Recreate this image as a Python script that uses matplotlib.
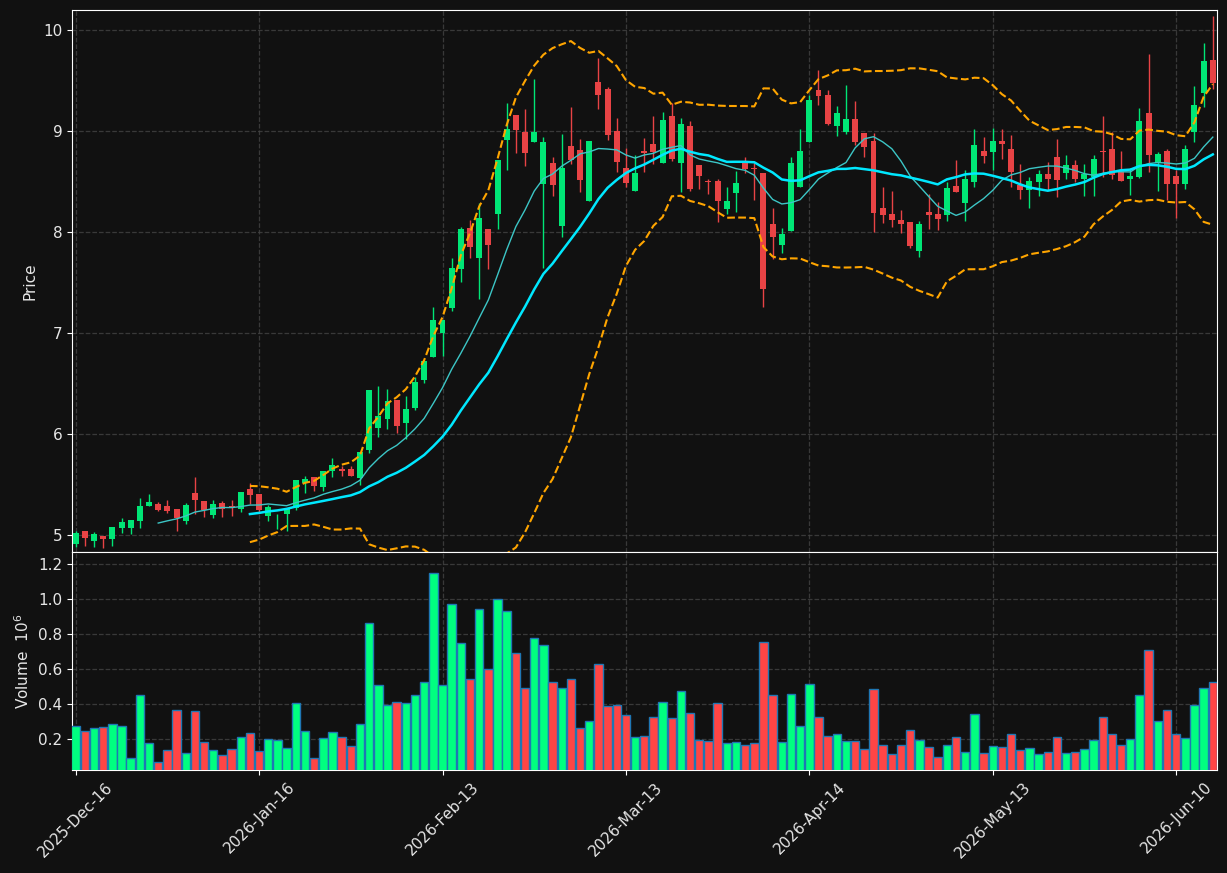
import numpy as np
import pandas as pd
import matplotlib
matplotlib.use("Agg")
import matplotlib.pyplot as plt

# OHLC (one bar per trading day)
opens = [4.914, 5.040, 4.941, 4.990, 4.960, 5.069, 5.069, 5.139, 5.287, 5.307,
         5.287, 5.257, 5.139, 5.416, 5.337, 5.198, 5.317, 5.287, 5.257, 5.456,
         5.410, 5.191, 5.205, 5.208, 5.271, 5.512, 5.574, 5.479, 5.637, 5.650,
         5.653, 5.568, 5.842, 6.063, 6.149, 6.337, 6.109, 6.257, 6.535, 6.766,
         7.003, 7.251, 7.637, 8.036, 7.746, 8.026, 8.182, 8.911, 9.155, 8.993,
         8.894, 8.479, 8.680, 8.056, 8.851, 8.812, 8.310, 9.488, 9.416, 9.000,
         8.634, 8.409, 8.802, 8.871, 8.680, 9.149, 8.686, 9.050, 8.660, 8.505,
         8.505, 8.231, 8.389, 8.683, 8.630, 8.581, 8.079, 7.875, 8.013, 8.442,
         8.894, 9.406, 9.356, 9.053, 8.993, 9.119, 8.980, 8.901, 8.238, 8.178,
         8.119, 8.099, 7.815, 8.198, 8.178, 8.172, 8.455, 8.290, 8.498, 8.802,
         8.795, 8.901, 8.822, 8.469, 8.416, 8.495, 8.574, 8.743, 8.587, 8.663,
         8.525, 8.548, 8.799, 8.822, 8.597, 8.525, 8.548, 9.178, 8.686, 8.802,
         8.554, 8.479, 8.993, 9.380, 9.703]
highs = [5.043, 5.040, 5.033, 4.990, 5.079, 5.165, 5.149, 5.366, 5.403, 5.327,
         5.343, 5.257, 5.317, 5.574, 5.337, 5.347, 5.337, 5.347, 5.426, 5.515,
         5.410, 5.297, 5.208, 5.264, 5.545, 5.584, 5.574, 5.634, 5.759, 5.683,
         5.683, 5.818, 6.436, 6.475, 6.442, 6.337, 6.380, 6.568, 6.723, 7.257,
         7.129, 7.743, 8.053, 8.116, 8.290, 8.026, 8.713, 9.277, 9.155, 9.221,
         9.518, 8.944, 8.743, 8.967, 9.234, 8.917, 8.901, 9.719, 9.439, 9.125,
         8.832, 8.762, 8.927, 9.149, 9.188, 9.281, 9.125, 9.099, 8.660, 8.525,
         8.525, 8.449, 8.601, 8.746, 8.680, 8.581, 8.234, 8.036, 8.746, 9.017,
         9.356, 9.601, 9.406, 9.251, 9.455, 9.294, 8.980, 8.977, 8.446, 8.406,
         8.215, 8.099, 8.106, 8.376, 8.294, 8.498, 8.713, 8.614, 9.017, 8.937,
         9.026, 9.017, 8.957, 8.670, 8.548, 8.611, 8.696, 8.917, 8.759, 8.713,
         8.673, 8.759, 9.149, 8.990, 8.799, 8.630, 9.224, 9.759, 8.789, 8.819,
         8.614, 8.858, 9.442, 9.868, 10.135]
lows = [4.884, 4.894, 4.884, 4.875, 4.894, 5.023, 5.013, 5.073, 5.287, 5.238,
        5.218, 5.043, 5.109, 5.208, 5.182, 5.172, 5.182, 5.191, 5.224, 5.307,
        5.230, 5.142, 5.059, 5.043, 5.248, 5.419, 5.439, 5.439, 5.571, 5.584,
        5.584, 5.495, 5.815, 5.974, 6.053, 6.013, 5.947, 6.238, 6.502, 6.766,
        6.776, 7.218, 7.502, 7.746, 7.337, 7.630, 8.026, 8.611, 8.779, 8.657,
        8.894, 7.640, 8.353, 7.954, 8.670, 8.399, 8.310, 9.214, 8.908, 8.597,
        8.449, 8.409, 8.597, 8.670, 8.680, 8.703, 8.399, 8.406, 8.422, 8.373,
        8.096, 8.175, 8.201, 8.581, 8.317, 7.261, 7.729, 7.795, 8.013, 8.442,
        8.894, 9.254, 9.056, 8.947, 8.970, 8.861, 8.746, 8.003, 8.092, 8.053,
        7.993, 7.838, 7.749, 8.033, 8.023, 8.112, 8.399, 8.112, 8.442, 8.680,
        8.614, 8.726, 8.442, 8.330, 8.241, 8.360, 8.416, 8.350, 8.528, 8.498,
        8.360, 8.360, 8.548, 8.528, 8.508, 8.370, 8.538, 8.597, 8.409, 8.320,
        8.142, 8.429, 8.888, 9.241, 9.413]
closes = [5.020, 4.974, 5.010, 4.964, 5.079, 5.129, 5.149, 5.287, 5.327, 5.248,
          5.238, 5.172, 5.297, 5.347, 5.248, 5.307, 5.257, 5.277, 5.426, 5.396,
          5.248, 5.274, 5.208, 5.264, 5.545, 5.554, 5.488, 5.634, 5.693, 5.634,
          5.584, 5.818, 6.436, 6.178, 6.327, 6.083, 6.248, 6.515, 6.723, 7.129,
          7.129, 7.644, 8.026, 7.855, 8.135, 7.875, 8.713, 9.023, 9.010, 8.782,
          8.990, 8.891, 8.469, 8.634, 8.713, 8.518, 8.901, 9.360, 8.960, 8.696,
          8.488, 8.584, 8.779, 8.795, 9.109, 8.723, 9.069, 8.429, 8.558, 8.498,
          8.310, 8.304, 8.485, 8.627, 8.624, 7.439, 7.954, 7.980, 8.683, 8.802,
          9.304, 9.350, 9.073, 9.178, 9.119, 8.894, 8.845, 8.191, 8.172, 8.119,
          8.082, 7.865, 8.079, 8.172, 8.132, 8.436, 8.399, 8.525, 8.861, 8.756,
          8.901, 8.875, 8.597, 8.419, 8.502, 8.574, 8.525, 8.518, 8.663, 8.525,
          8.578, 8.723, 8.792, 8.564, 8.508, 8.554, 9.099, 8.766, 8.772, 8.479,
          8.479, 8.822, 9.257, 9.693, 9.479]
# volume in millions
volumes = [0.275, 0.246, 0.263, 0.269, 0.286, 0.275, 0.091, 0.453, 0.177, 0.068,
           0.139, 0.367, 0.120, 0.361, 0.185, 0.137, 0.108, 0.144, 0.211, 0.234,
           0.131, 0.200, 0.194, 0.148, 0.407, 0.246, 0.091, 0.206, 0.240, 0.211,
           0.160, 0.286, 0.861, 0.510, 0.395, 0.413, 0.407, 0.453, 0.528, 1.148,
           0.510, 0.970, 0.746, 0.545, 0.941, 0.602, 0.999, 0.930, 0.689, 0.493,
           0.775, 0.740, 0.528, 0.493, 0.545, 0.263, 0.303, 0.631, 0.390, 0.395,
           0.338, 0.211, 0.217, 0.326, 0.413, 0.321, 0.476, 0.349, 0.194, 0.189,
           0.407, 0.177, 0.183, 0.166, 0.177, 0.752, 0.453, 0.183, 0.459, 0.275,
           0.516, 0.326, 0.217, 0.229, 0.189, 0.189, 0.143, 0.487, 0.166, 0.114,
           0.166, 0.252, 0.194, 0.154, 0.097, 0.166, 0.211, 0.125, 0.344, 0.120,
           0.160, 0.154, 0.229, 0.137, 0.148, 0.114, 0.125, 0.211, 0.120, 0.125,
           0.143, 0.194, 0.326, 0.229, 0.166, 0.200, 0.453, 0.711, 0.303, 0.367,
           0.229, 0.206, 0.395, 0.493, 0.528]

tick_pos = [0, 20, 40, 60, 80, 100, 120]
tick_labels = ["2025-Dec-16", "2026-Jan-16", "2026-Feb-13", "2026-Mar-13",
               "2026-Apr-14", "2026-May-13", "2026-Jun-10"]

BG = "#111111"
TXT = "#e6e6e6"
UP = "#00e676"
DOWN = "#e84345"
VUP = "#00ff80"
VDOWN = "#ff4545"

df = pd.DataFrame({"Open": opens, "High": highs, "Low": lows,
                   "Close": closes, "Volume": volumes})
x = np.arange(len(df))
up = df["Close"] >= df["Open"]

# moving averages and bollinger bands from the closes
ma10 = df["Close"].rolling(10).mean()
ma20 = df["Close"].rolling(20).mean()
std20 = df["Close"].rolling(20).std()
bb_up = ma20 + 2 * std20
bb_lo = ma20 - 2 * std20

fig = plt.figure(figsize=(12.27, 8.73), dpi=100, facecolor=BG)
ax = fig.add_axes([0.0587, 0.3677, 0.9331, 0.6208])
axv = fig.add_axes([0.0587, 0.1180, 0.9331, 0.2497], sharex=ax)

for a in (ax, axv):
    a.set_facecolor(BG)
    for s in a.spines.values():
        s.set_color("white")
    a.tick_params(colors="white", labelcolor=TXT, labelsize=11)
    a.grid(True, color="#444444", linestyle="--", linewidth=0.9, alpha=0.8)
    a.set_axisbelow(True)

# candles
for i in x:
    c = UP if up[i] else DOWN
    ax.vlines(i, df["Low"][i], df["High"][i], color=c, linewidth=1, zorder=2)
    lo = min(df["Open"][i], df["Close"][i])
    h = max(abs(df["Close"][i] - df["Open"][i]), 0.008)
    ax.bar(i, h, bottom=lo, width=0.65, color=c, linewidth=0, zorder=3)

ax.plot(x, ma10, color="#3cc6c6", linewidth=1.0, zorder=4)
ax.plot(x, ma20, color="#00e8ff", linewidth=1.8, zorder=4)
ax.plot(x, bb_up, color="#ffa500", linestyle="--", linewidth=1.5, zorder=4)
ax.plot(x, bb_lo, color="#ffa500", linestyle="--", linewidth=1.5, zorder=4)

ax.set_ylim(4.832, 10.198)
ax.set_ylabel("Price", color=TXT, fontsize=11)
ax.set_yticks([5, 6, 7, 8, 9, 10])
ax.tick_params(axis="x", labelbottom=False)

vcol = [VUP if u else VDOWN for u in up]
axv.bar(x, df["Volume"], width=0.92, color=vcol, edgecolor="#1f77b4",
        linewidth=1.0, zorder=3)
axv.set_ylim(0.023, 1.269)
axv.set_yticks([0.2, 0.4, 0.6, 0.8, 1.0, 1.2])
axv.set_ylabel("Volume  $10^{6}$", color=TXT, fontsize=11)

axv.set_xlim(-0.4, 124.45)
axv.set_xticks(tick_pos)
axv.set_xticklabels(tick_labels, rotation=45, ha="center", color=TXT)

fig.savefig("out.png", dpi=100, facecolor=BG)
